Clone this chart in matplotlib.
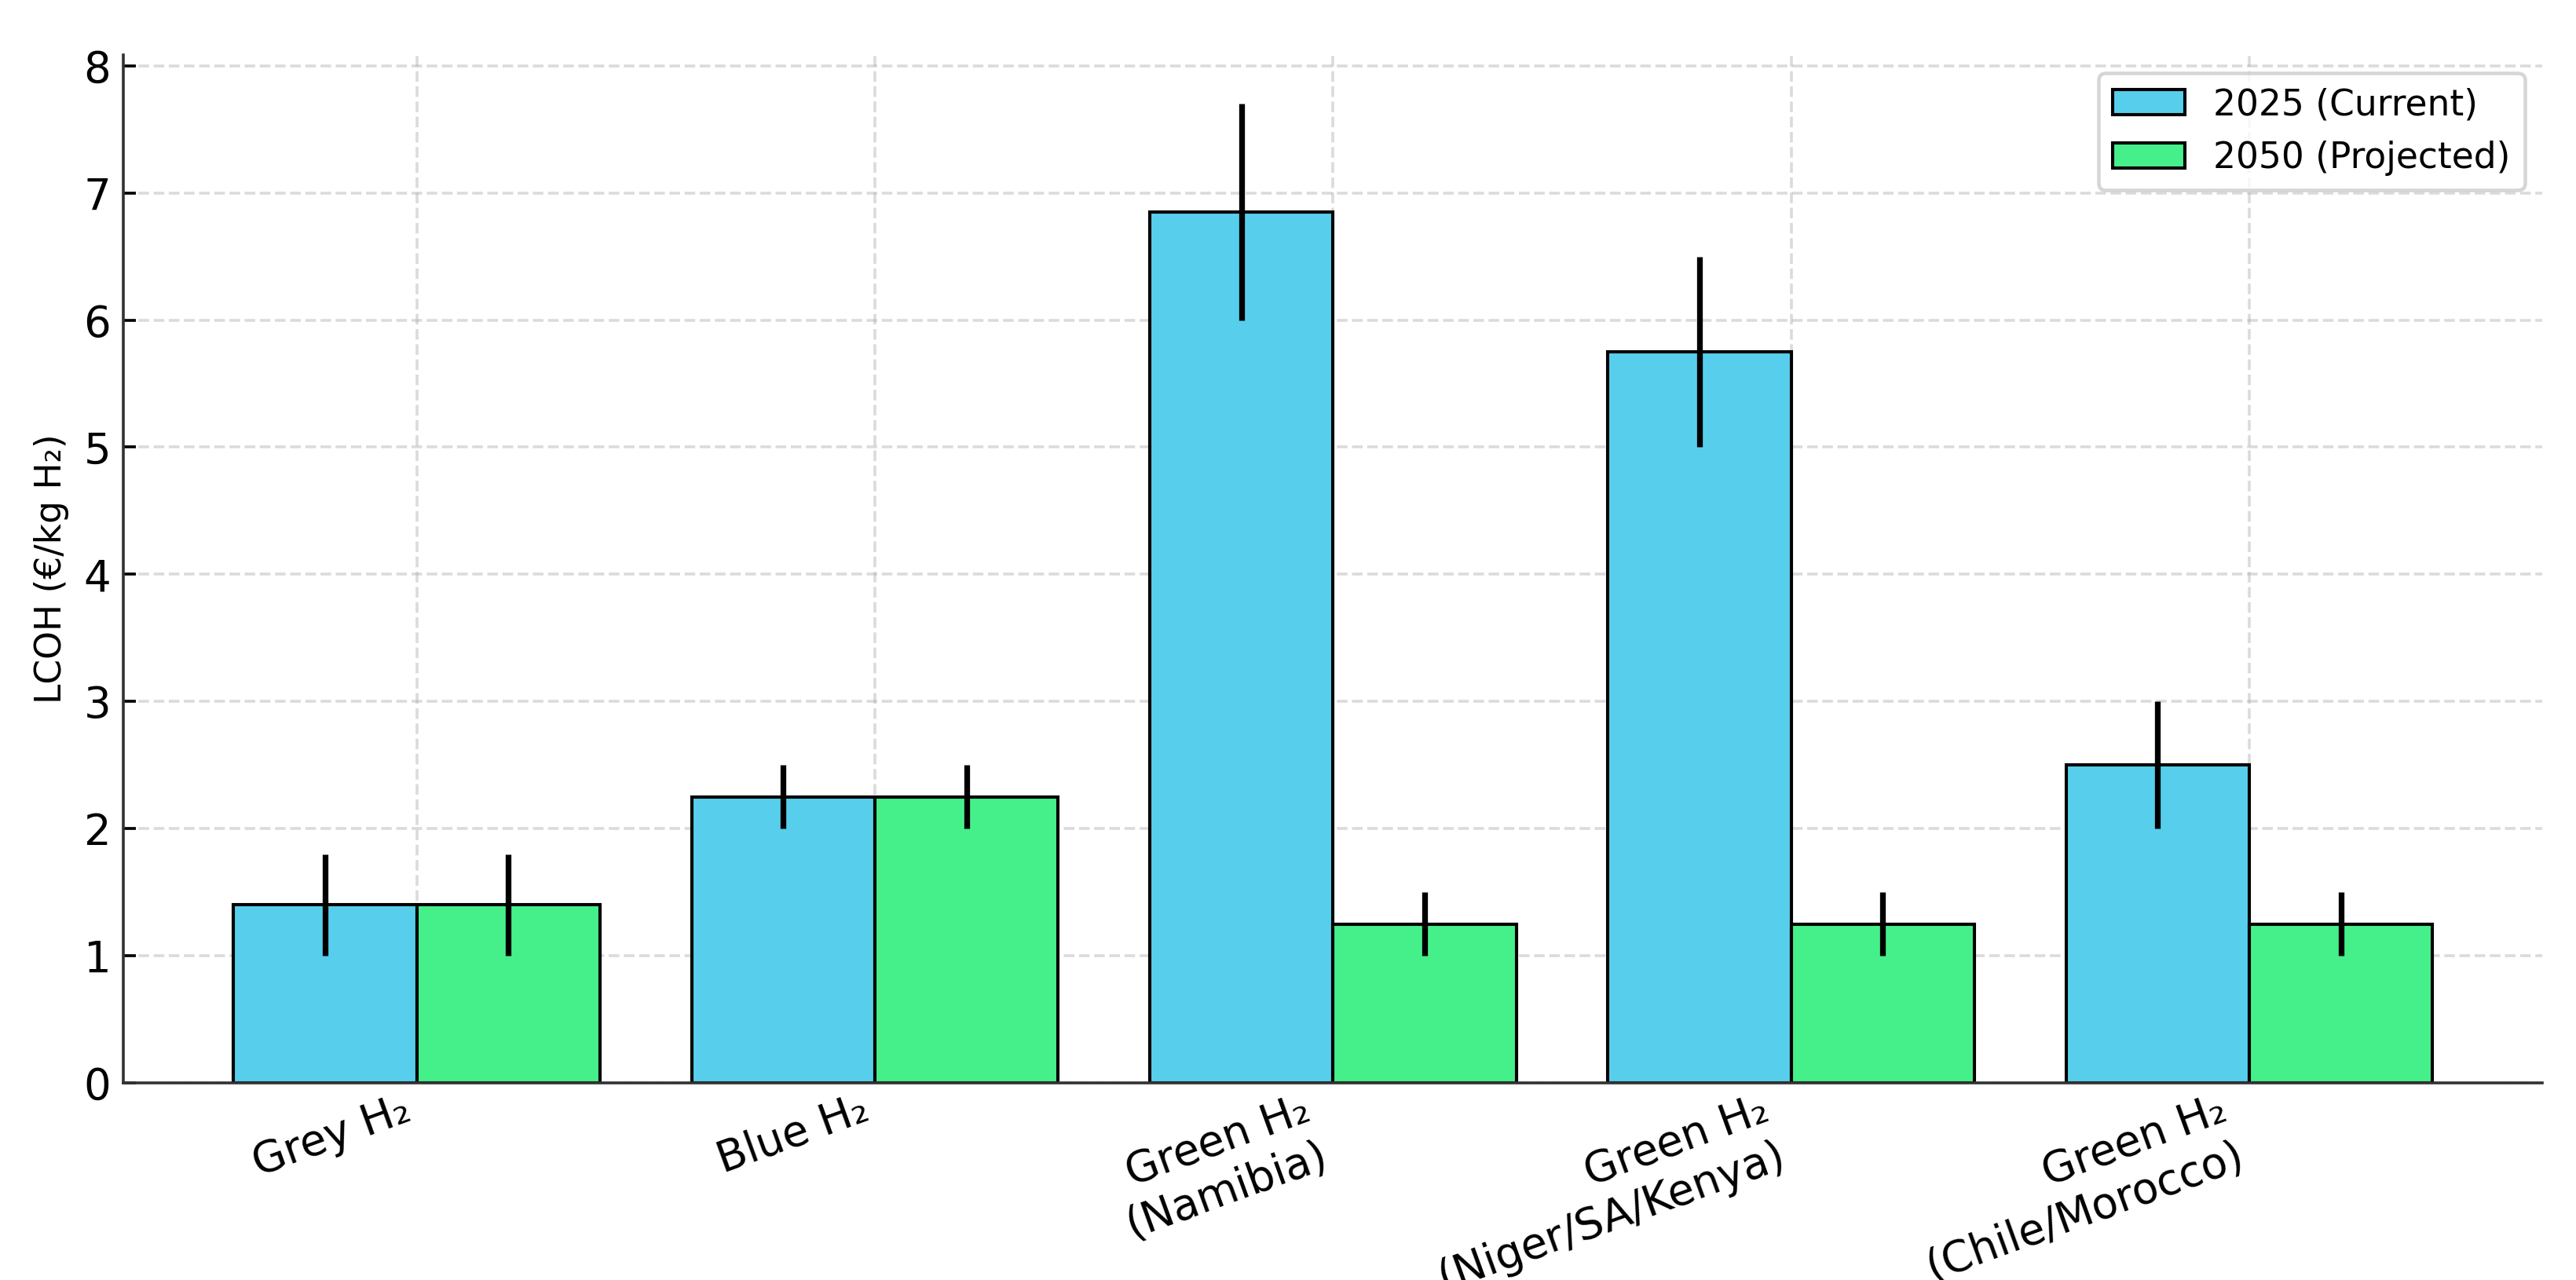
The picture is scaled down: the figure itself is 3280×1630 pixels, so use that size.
import numpy as np
import matplotlib.pyplot as plt

# Data
categories = ['Grey H₂', 'Blue H₂', 'Green H₂\n(Namibia)',
              'Green H₂\n(Niger/SA/Kenya)', 'Green H₂\n(Chile/Morocco)']
lcoh_2025 = [1.4, 2.25, 6.85, 5.75, 2.5]
err_2025 = [0.4, 0.25, 0.85, 0.75, 0.5]
lcoh_2050 = [1.4, 2.25, 1.25, 1.25, 1.25]
err_2050 = [0.4, 0.25, 0.25, 0.25, 0.25]

x = np.arange(len(categories))
width = 0.4

fig = plt.figure(figsize=(10, 4.97), dpi=328)
ax = fig.add_axes([0.048, 0.154, 0.939, 0.803])

ax.bar(x - width / 2, lcoh_2025, width, yerr=err_2025, color='#57cfec',
       edgecolor='black', linewidth=0.9, label='2025 (Current)',
       error_kw=dict(ecolor='black', elinewidth=1.6, capsize=0))
ax.bar(x + width / 2, lcoh_2050, width, yerr=err_2050, color='#45f08a',
       edgecolor='black', linewidth=0.9, label='2050 (Projected)',
       error_kw=dict(ecolor='black', elinewidth=1.6, capsize=0))

ax.set_ylabel('LCOH (€/kg H₂)', fontsize=10)
ax.set_xticks(x)
ax.set_xticklabels(categories, rotation=20, ha='right', fontsize=12)
ax.tick_params(direction='in', labelsize=12)
ax.tick_params(axis='x', pad=1.5)
ax.grid(True, linestyle='--', alpha=0.45)
ax.set_axisbelow(True)
for side in ['top', 'right']:
    ax.spines[side].set_visible(False)
for side in ['left', 'bottom']:
    ax.spines[side].set_color('#333333')
ax.legend(loc='upper right', fontsize=10)

fig.savefig('out.png', dpi=328)
